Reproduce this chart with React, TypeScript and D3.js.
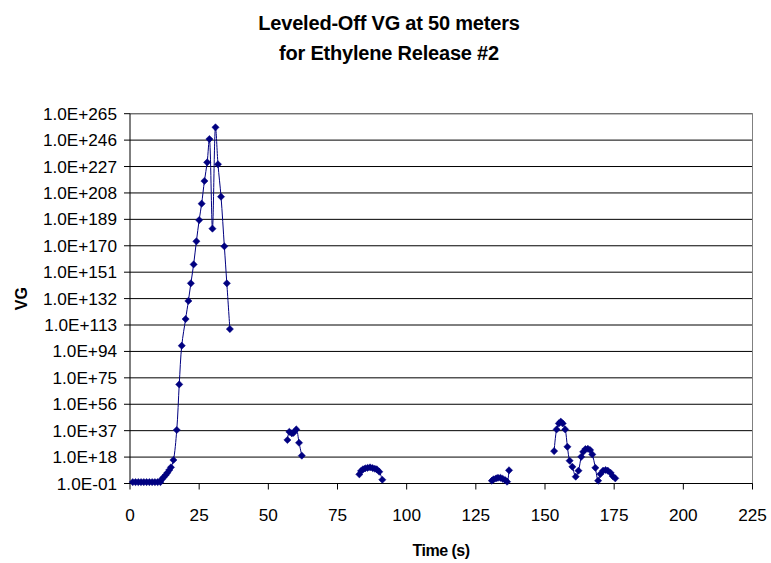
import React, { useEffect } from "react";
import * as d3 from "d3";

const TITLE_LINES = ["Leveled-Off VG at 50 meters", "for Ethylene Release #2"];
const X_LABEL = "Time (s)";
const Y_LABEL = "VG";

const xTicks = [0, 25, 50, 75, 100, 125, 150, 175, 200, 225];
const yTickExponents = [-1, 18, 37, 56, 75, 94, 113, 132, 151, 170, 189, 208, 227, 246, 265];

// Time (s); null marks a gap in the series
const timeS: (number | null)[] = [
  1, 2, 3, 4, 5, 6, 7, 8, 9, 10, 11,
  11.5, 12.1, 12.9, 13.5, 14.2, 14.8, 15.7, 16.9, 17.8, 18.7, 20.1, 21.1, 22.0, 23.0, 24.0, 25.0,
  25.9, 26.9, 27.9, 28.7, 29.8, 30.9, 31.8, 32.9, 34.1, 35.0, 36.1,
  null,
  56.9, 57.6, 58.5, 59.1, 60.1, 61.1, 62.1,
  null,
  82.9, 83.5, 84.2, 85.0, 85.9, 86.8, 87.7, 88.5, 89.2, 90.1, 91.2,
  null,
  130.8, 131.4, 132.3, 133.0, 133.9, 134.7, 135.6, 136.3, 137.0,
  null,
  153.3, 154.2, 155.0, 155.7, 156.4, 157.3, 158.1, 158.9, 159.9, 161.1, 162.1, 163.1, 163.8,
  164.6, 165.5, 166.3, 167.1, 168.2, 169.2, 170.0, 171.0, 171.9, 172.7, 173.7, 174.5, 175.4,
];

const vgValues: (number | null)[] = [
  1, 1, 1, 1, 1, 1, 1, 1, 1, 1, 1,
  1e2, 2.5e3, 1.3e5, 5e6, 5e8, 4e10, 8e15, 3e37, 2e70, 1.3e98, 2e117, 2e130, 1e143, 4e156, 1.6e173, 3e188,
  2e200, 4e216, 1e230, 6e246, 2e182, 1.6e255, 4e228, 2e205, 4e169, 1e143, 1.3e110,
  null,
  2e30, 1.6e36, 1.3e35, 3e35, 8e37, 2e28, 1e19,
  null,
  4e5, 1e8, 1.6e9, 8e9, 2e10, 4e10, 1.3e10, 4e9, 1.6e9, 3e7, 5e1,
  null,
  1e1, 1e2, 5e2, 1.3e3, 1.3e3, 2.5e2, 3e1, 2e0, 3e8,
  null,
  2e22, 8e37, 1.6e42, 3e43, 1.6e42, 8e37, 2.5e25, 2.5e15, 1e11, 8e3, 1.6e8, 1.6e18, 6e21,
  6e23, 1e24, 1.3e23, 8e19, 2e10, 1e1, 6e5, 1.6e8, 5e8, 1.6e8, 5e6, 2e4, 5e2,
];

const W = 771;
const H = 563;
const FONT = "'Liberation Sans', Arial, sans-serif";
const NAVY = "#000080";

function fmtExp(e: number) {
  const sign = e < 0 ? "-" : "+";
  const a = Math.abs(e);
  return "1.0E" + sign + (a < 10 ? "0" + a : String(a));
}

export default function App() {
  useEffect(() => {
    document.body.style.margin = "0";
  }, []);

  const x = d3.scaleLinear().domain([0, 225]).range([130, 752.5]);
  const y = d3.scaleLog().domain([1e-1, 1e265]).range([483.5, 113.7]);

  const pts = timeS.map((t, i) => ({ t, v: vgValues[i] }));
  const line = d3
    .line<{ t: number | null; v: number | null }>()
    .defined((d) => d.t !== null && d.v !== null)
    .x((d) => x(d.t as number))
    .y((d) => y(d.v as number))
    .curve(d3.curveCatmullRom.alpha(0.5));

  const [x0, x1] = x.range();
  const [yb, yt] = y.range();
  const r = 3.6;

  return (
    <svg
      width={W}
      height={H}
      style={{ position: "absolute", left: 0, top: 0, background: "#fff" }}
      fontFamily={FONT}
    >
      <rect x={0} y={0} width={W} height={H} fill="#fff" />
      {TITLE_LINES.map((s, i) => (
        <text
          key={i}
          x={389}
          y={30 + i * 29.5}
          textAnchor="middle"
          fontSize={20}
          fontWeight="bold"
          fill="#000"
          letterSpacing={-0.2}
        >
          {s}
        </text>
      ))}

      {/* grid lines */}
      {yTickExponents.map((e) => (
        <line key={e} x1={x0} x2={x1} y1={y(Math.pow(10, e))} y2={y(Math.pow(10, e))} stroke="#000" strokeWidth={1} />
      ))}
      {/* border top/right */}
      <line x1={x0} x2={x1} y1={yt} y2={yt} stroke="#808080" strokeWidth={1} />
      <line x1={x1} x2={x1} y1={yt} y2={yb} stroke="#808080" strokeWidth={1} />
      {/* axes */}
      <line x1={x0} x2={x0} y1={yt} y2={yb} stroke="#000" strokeWidth={1} />
      <line x1={x0} x2={x1} y1={yb} y2={yb} stroke="#000" strokeWidth={1} />

      {/* y ticks */}
      {yTickExponents.map((e) => {
        const yy = y(Math.pow(10, e));
        return (
          <g key={e}>
            <line x1={x0 - 6} x2={x0} y1={yy} y2={yy} stroke="#000" />
            <text x={117} y={yy + 6} textAnchor="end" fontSize={17.2} fill="#000">
              {fmtExp(e)}
            </text>
          </g>
        );
      })}
      {/* x ticks */}
      {xTicks.map((t) => (
        <g key={t}>
          <line x1={x(t)} x2={x(t)} y1={yb} y2={yb + 6} stroke="#000" />
          <text x={x(t)} y={521} textAnchor="middle" fontSize={17.2} fill="#000">
            {t}
          </text>
        </g>
      ))}

      <text x={441} y={556} textAnchor="middle" fontSize={16} fontWeight="bold" fill="#000" letterSpacing={-0.5}>
        {X_LABEL}
      </text>
      <text
        transform={`translate(27,${(yt + yb) / 2}) rotate(-90)`}
        textAnchor="middle"
        fontSize={16}
        fontWeight="bold"
        fill="#000"
      >
        {Y_LABEL}
      </text>

      <path d={line(pts) || ""} fill="none" stroke={NAVY} strokeWidth={1} />
      {pts
        .filter((d) => d.t !== null && d.v !== null)
        .map((d, i) => {
          const cx = x(d.t as number);
          const cy = y(d.v as number);
          return (
            <path
              key={i}
              d={`M${cx},${cy - r}L${cx + r},${cy}L${cx},${cy + r}L${cx - r},${cy}Z`}
              fill={NAVY}
              stroke={NAVY}
              strokeWidth={0.5}
            />
          );
        })}
    </svg>
  );
}
